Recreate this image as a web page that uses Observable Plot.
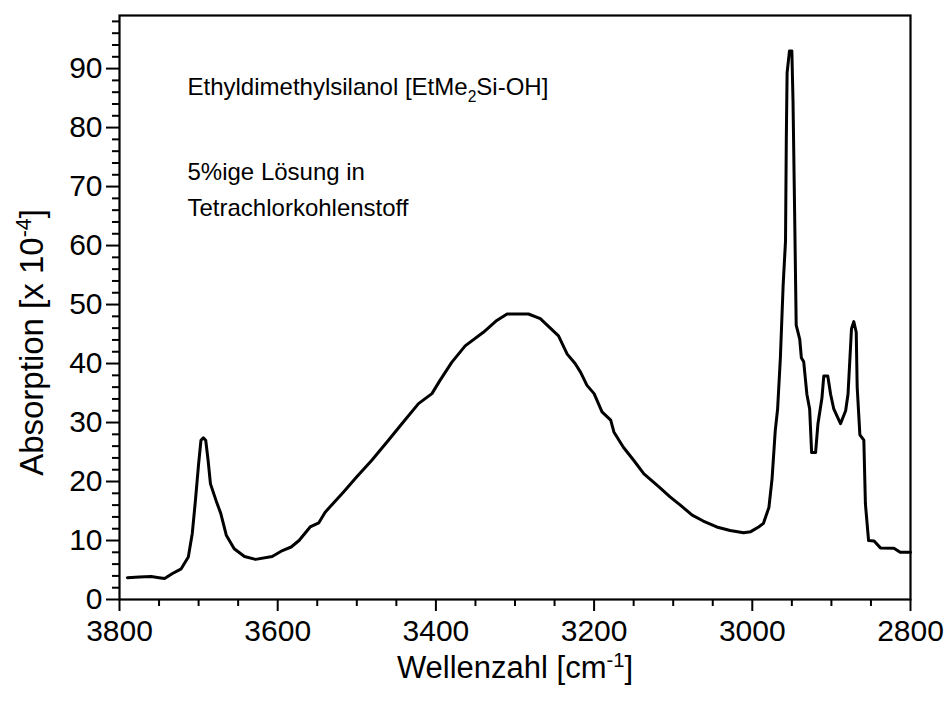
<!DOCTYPE html>
<html><head><meta charset="utf-8">
<script src="https://cdn.jsdelivr.net/npm/d3@7"></script>
<script src="https://cdn.jsdelivr.net/npm/@observablehq/plot@0.6"></script>
<style>
body{margin:0;background:#fff;}
#chart svg{font-family: Arial, "Liberation Sans", sans-serif;}
</style>
</head><body><div id="chart"></div>
<script>
const wavenumber = [3790,3775,3760,3750,3743,3733,3722,3713,3708,3704,3700,3697,3694,3691,3688,3685,3678,3672,3665,3655,3642,3628,3607,3594,3583,3573,3559,3548,3540,3517,3500,3481,3460,3443,3422,3405,3395,3380,3363,3340,3323,3310,3283,3268,3245,3234,3224,3217,3209,3200,3190,3179,3175,3163,3150,3137,3118,3104,3091,3076,3062,3045,3028,3011,3002,2992,2986,2979,2975,2971,2968,2964.5,2961,2958,2957,2956,2953,2950,2948.5,2946.5,2944.5,2940,2938,2935,2931,2927.5,2925,2920,2917,2912,2909.6,2904.6,2901,2897,2888.5,2882,2879,2874.6,2871.7,2868.6,2867.4,2864,2859,2857,2853,2846,2838,2821,2813,2800];
const absorption = [3.7,3.8,3.9,3.7,3.55,4.4,5.2,7.2,11.2,16.8,23.0,27.0,27.4,27.0,23.6,19.6,16.8,14.6,10.9,8.6,7.3,6.8,7.3,8.3,8.9,10.0,12.3,13.0,14.8,18.2,20.8,23.6,27.0,29.8,33.2,34.9,37.1,40.2,43.0,45.3,47.3,48.4,48.4,47.6,44.7,41.6,40.0,38.5,36.3,34.9,31.8,30.4,28.4,25.8,23.6,21.3,19.1,17.4,16.0,14.3,13.3,12.3,11.7,11.3,11.5,12.3,12.9,15.6,20.5,28.6,32.3,41.0,53.3,60.8,78.1,89.3,93.0,93.0,84.3,65.7,46.5,44.1,41.0,40.3,34.8,32.3,24.9,24.9,29.8,34.1,37.9,37.9,34.8,32.3,29.8,32.0,34.8,45.9,47.1,45.3,36.0,27.9,27.0,16.2,10.0,9.9,8.75,8.7,8.0,8.0];

const xTicks = [3800,3600,3400,3200,3000,2800];
const xMinorTicks = [3750,3700,3650,3550,3500,3450,3350,3300,3250,3150,3100,3050,2950,2900,2850];
const yTicks = [0,10,20,30,40,50,60,70,80,90];
const yMinorTicks = [2,4,6,8,12,14,16,18,22,24,26,28,32,34,36,38,42,44,46,48,52,54,56,58,62,64,66,68,72,74,76,78,82,84,86,88,92,94,96,98];

const xTitle = ["Wellenzahl [cm-1]"];
const yTitle = ["Absorption [x 10-4]"];
const noteTitle = ["Ethyldimethylsilanol [EtMe2Si-OH]"];
const noteBody = ["5%ige Lösung in\nTetrachlorkohlenstoff"];

const data = wavenumber.map((w, i) => ({w, a: absorption[i]}));
const fmt = d => String(d);

const plot = Plot.plot({
  width: 949, height: 711,
  marginLeft: 119, marginRight: 39, marginTop: 15, marginBottom: 112,
  style: {fontFamily: "Arial, 'Liberation Sans', sans-serif", color: "#000", background: "#fff", overflow: "visible"},
  x: {domain: [3800, 2800]},
  y: {domain: [0, 99]},
  marks: [
    Plot.axisX(xMinorTicks, {tickSize: 7, tickFormat: () => "", strokeWidth: 2, label: null}),
    Plot.axisX(xTicks, {tickSize: 12, tickPadding: 8, strokeWidth: 2, fontSize: 30, tickFormat: fmt, label: null}),
    Plot.axisY(yMinorTicks, {tickSize: 7, tickFormat: () => "", strokeWidth: 2, label: null}),
    Plot.axisY(yTicks, {tickSize: 13, tickPadding: 4, strokeWidth: 2, fontSize: 30, tickFormat: fmt, label: null}),
    Plot.frame({strokeWidth: 2.2, stroke: "#000"}),
    Plot.line(data, {x: "w", y: "a", stroke: "#000", strokeWidth: 3, strokeLinejoin: "round"}),
    Plot.text(xTitle, {frameAnchor: "bottom", dy: 69, fontSize: 31, textAnchor: "middle", lineAnchor: "middle", fill: "#000"}),
    Plot.text(yTitle, {frameAnchor: "left", dx: -87, dy: 35, rotate: -90, fontSize: 33, textAnchor: "middle", lineAnchor: "middle", fill: "#000"}),
    Plot.text(noteTitle, {frameAnchor: "top-left", dx: 68, dy: 72, fontSize: 24, textAnchor: "start", lineAnchor: "middle", fill: "#000"}),
    Plot.text(noteBody, {frameAnchor: "top-left", dx: 68, dy: 171, fontSize: 24, textAnchor: "start", lineAnchor: "middle", lineHeight: 1.5, fill: "#000"})
  ]
});
document.getElementById("chart").appendChild(plot);

// rich text: sub/superscripts
function rebuild(el, parts, size) {
  while (el.firstChild) el.removeChild(el.firstChild);
  const ns = "http://www.w3.org/2000/svg";
  let shift = 0;
  for (const p of parts) {
    const ts = document.createElementNS(ns, "tspan");
    ts.textContent = p.t;
    const target = p.sub ? size * 0.3 : p.sup ? -size * 0.38 : 0;
    if (target !== shift) { ts.setAttribute("dy", (target - shift).toFixed(2)); shift = target; }
    if (p.sub || p.sup) ts.setAttribute("font-size", (size * 0.65).toFixed(1));
    el.appendChild(ts);
  }
}
d3.select(plot).selectAll("text").each(function() {
  const t = this.textContent;
  if (t === xTitle[0]) rebuild(this, [{t: "Wellenzahl [cm"}, {t: "-1", sup: true}, {t: "]"}], 31);
  else if (t === yTitle[0]) rebuild(this, [{t: "Absorption [x 10"}, {t: "-4", sup: true}, {t: "]"}], 33);
  else if (t === noteTitle[0]) rebuild(this, [{t: "Ethyldimethylsilanol [EtMe"}, {t: "2", sub: true}, {t: "Si-OH]"}], 24);
});
</script>
</body></html>
